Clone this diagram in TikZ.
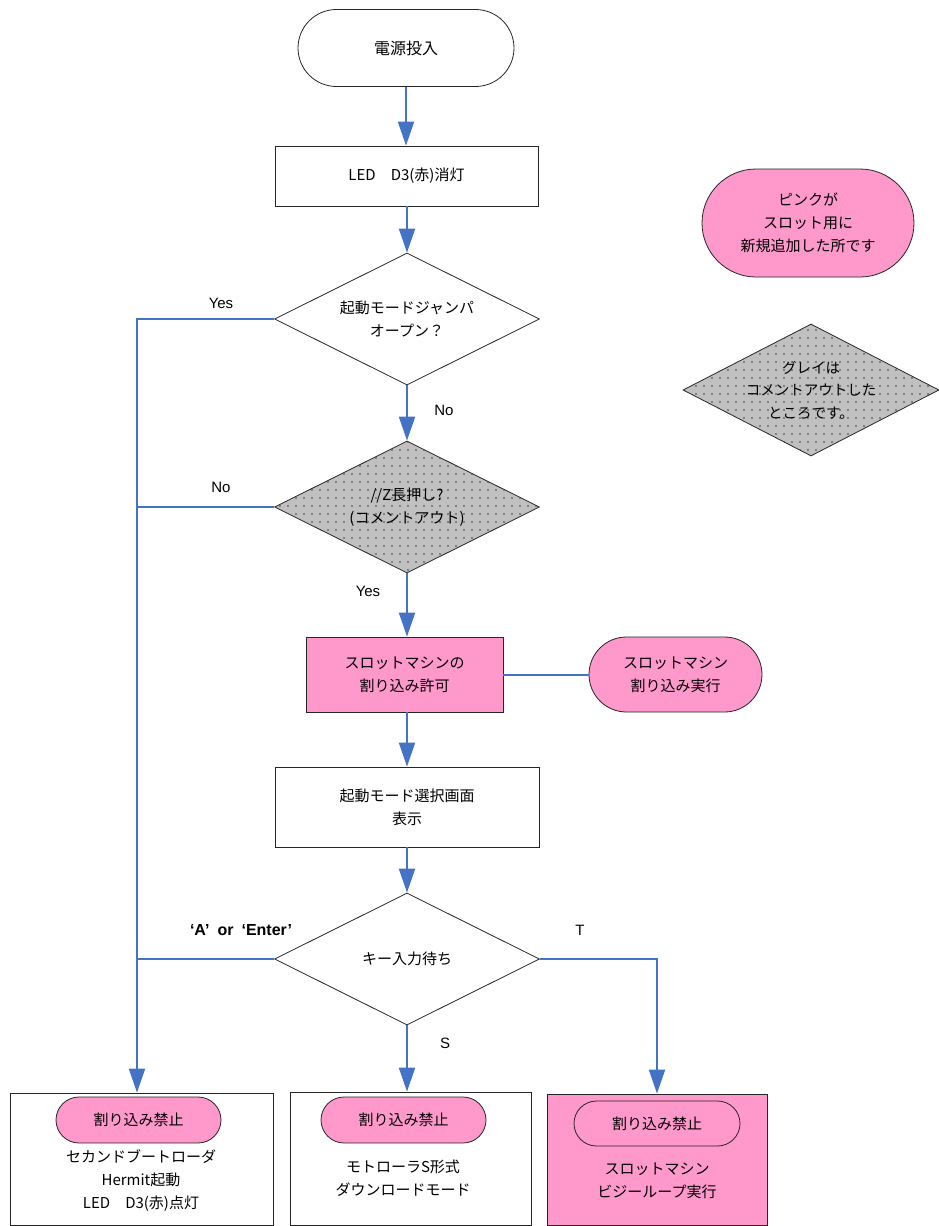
\documentclass[tikz,border=0pt]{standalone}
\usepackage{fontspec}
\setmainfont{Noto Sans CJK JP}
\newfontfamily\lat{Liberation Sans}
\usetikzlibrary{shapes.geometric, arrows.meta, patterns.meta}
\definecolor{flowblue}{HTML}{4472C4}
\definecolor{slotpink}{HTML}{FF99CC}
\definecolor{cmtgray}{HTML}{C0C0C0}
\begin{document}
\begin{tikzpicture}[x=1pt,y=-1pt,
  every node/.style={font=\fontsize{15}{23}\selectfont, align=center, inner sep=0pt},
  box/.style={draw=black!85, line width=0.8pt, rectangle},
  stadium/.style={draw=black!85, line width=0.8pt, rectangle, rounded corners=#1},
  decision/.style={draw=black!85, line width=0.8pt, diamond, minimum width=265pt, minimum height=132pt},
  commented/.style={fill=cmtgray, postaction={pattern={Dots[distance=8pt, radius=0.9pt]}, pattern color=black!75}},
  pinkfill/.style={fill=slotpink},
  flow/.style={draw=flowblue, line width=2pt},
  arr/.style={flow, -{Triangle[length=24pt,width=16pt]}},
  lbl/.style={font=\lat\fontsize{15}{18}\selectfont},
]
\useasboundingbox (0,0) rectangle (939,1226);
\clip (0,0) rectangle (939,1226);

% main column
\node[stadium=38.5pt, minimum width=216pt, minimum height=77pt, font=\fontsize{16}{23}\selectfont] (start) at (406,48) {電源投入};
\node[box, minimum width=263pt, minimum height=60pt] (led) at (406.5,176) {LED　D3(赤)消灯};
\node[decision] (d1) at (407,319) {};
\node (d1t) at (d1) {起動モードジャンパ\\オープン？};
\node[decision, commented] (d2) at (407,507) {};
\node (d2t) at (d2) {//Z長押し?\\(コメントアウト)};
\node[box, pinkfill, minimum width=197pt, minimum height=75pt] (perm) at (404.5,674.5) {スロットマシンの\\割り込み許可};
\node[stadium=37.5pt, pinkfill, minimum width=173pt, minimum height=75pt] (isr) at (675.5,674.5) {スロットマシン\\割り込み実行};
\node[box, minimum width=264pt, minimum height=80pt] (sel) at (407,807) {起動モード選択画面\\表示};
\node[decision] (d3) at (407,959) {};
\node (d3t) at (d3) {キー入力待ち};

% legend
\node[stadium=54pt, pinkfill, minimum width=212pt, minimum height=108pt] (lgpink) at (808,223) {ピンクが\\スロット用に\\新規追加した所です};
\node[decision, minimum width=256pt, commented] (lggray) at (811,390) {};
\node[font=\fontsize{14.5}{22.5}\selectfont] (lggrayt) at (lggray) {グレイは\\コメントアウトした\\ところです。};

% bottom boxes
\node[box, minimum width=263pt, minimum height=132pt] (b1) at (141.5,1159) {};
\node[stadium=23pt, pinkfill, minimum width=165pt, minimum height=46pt] (i1) at (138.5,1120) {割り込み禁止};
\node (t1) at (141,1180.5) {セカンドブートローダ\\Hermit起動\\LED　D3(赤)点灯};

\node[box, minimum width=241pt, minimum height=133pt] (b2) at (410.5,1158.5) {};
\node[stadium=23pt, pinkfill, minimum width=165pt, minimum height=46pt] (i2) at (403.5,1120) {割り込み禁止};
\node (t2) at (403,1178) {モトローラS形式\\ダウンロードモード};

\node[box, pinkfill, minimum width=220pt, minimum height=131pt] (b3) at (657,1159.5) {};
\node[stadium=22.5pt, pinkfill, minimum width=166pt, minimum height=45pt] (i3) at (657,1123.5) {割り込み禁止};
\node (t3) at (657,1180.5) {スロットマシン\\ビジーループ実行};

% connectors
\coordinate (trunk) at (137,319);
\draw[arr] (start.south) -- (start.south |- led.north);
\draw[arr] (d1.north |- led.south) -- (d1.north);
\draw[arr] (d1.south) -- (d2.north);
\draw[arr] (d2.south) -- (d2.south |- perm.north);
\draw[flow] (perm.east) -- (isr.west);
\draw[arr] (d2.south |- perm.south) -- (sel.north);
\draw[arr] (sel.south) -- (d3.north);
\draw[arr] (d1.west) -- (trunk) -- (trunk |- b1.north);
\draw[flow] (d2.west) -- (d2.west -| trunk);
\draw[flow] (d3.west) -- (d3.west -| trunk);
\draw[arr] (d3.east) -| (b3.north);
\draw[arr] (d3.south) -- (d3.south |- b2.north);

% labels
\node[lbl] (lyes1) at (221,303) {Yes};
\node[lbl] (lno1) at (444,410) {No};
\node[lbl] (lno2) at (221,487) {No};
\node[lbl] (lyes2) at (368,591) {Yes};
\node[lbl, font=\lat\bfseries\fontsize{16}{18}\selectfont] (lae) at (241,930) {‘A’\enspace or\enspace ‘Enter’};
\node[lbl] (lt) at (580,930) {T};
\node[lbl] (ls) at (445,1043) {S};
\end{tikzpicture}
\end{document}
